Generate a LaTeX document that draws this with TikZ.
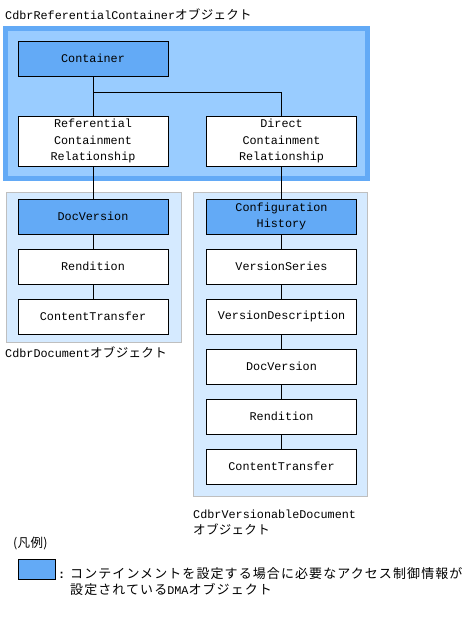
\documentclass[tikz,border=0pt]{standalone}
\usepackage{fontspec}
\setmainfont{Liberation Mono}
\newfontfamily\jp{Noto Sans CJK JP}[LetterSpace=2.5,Scale=1.06]
\newfontfamily\jpwide{Noto Sans CJK JP}[LetterSpace=8.5,Scale=1.1]
\definecolor{dmablue}{HTML}{63AAF6}
\definecolor{rcfill}{HTML}{99CCFF}
\definecolor{docfill}{HTML}{D5EAFF}
\definecolor{docline}{HTML}{BFBFBF}
\begin{document}
\begin{tikzpicture}[x=1pt,y=-1pt,
    font=\fontsize{11.8pt}{16.5pt}\selectfont,
    obj/.style={draw,fill=white,minimum width=150pt,minimum height=35pt,inner sep=0pt,align=center},
    dma/.style={obj,fill=dmablue},
    rel/.style={obj,minimum height=50pt},
    lbl/.style={anchor=base west,inner sep=0pt}]
  \useasboundingbox (0,0) rectangle (471,620);
  \draw[line width=5pt,draw=dmablue,fill=rcfill] (5.5,28.5) rectangle (367.5,178.5);
  \draw[docline,fill=docfill] (6.5,192.5) rectangle (181.5,342.5);
  \draw[docline,fill=docfill] (193.5,192.5) rectangle (367.5,496.5);
  \node[lbl] (rctitle) at (5,20) {CdbrReferentialContainer{\jp オブジェクト}};
  \node[lbl] (doctitle) at (5,357) {CdbrDocument{\jp オブジェクト}};
  \node[lbl] (vdtitle) at (193,518) {CdbrVersionableDocument};
  \node[lbl] (vdtitle2) at (193,534.5) {\jp オブジェクト};
  \node[dma] (cont) at (93,58.5) {Container};
  \node[rel] (refrel) at (93,141) {Referential\\Containment\\Relationship};
  \node[rel] (dirrel) at (281.5,141) {Direct\\Containment\\Relationship};
  \node[dma] (docver) at (93,216.5) {DocVersion};
  \node[obj] (rend) at (93,266.5) {Rendition};
  \node[obj] (ctrans) at (93,316.5) {ContentTransfer};
  \node[dma] (confhist) at (281.5,216.5) {Configuration\\History};
  \node[obj] (vseries) at (281.5,266.5) {VersionSeries};
  \node[obj] (vdesc) at (281.5,316.5) {VersionDescription};
  \node[obj] (vdocver) at (281.5,366.5) {DocVersion};
  \node[obj] (vrend) at (281.5,416.5) {Rendition};
  \node[obj] (vctrans) at (281.5,466.5) {ContentTransfer};
  \coordinate (branch) at (93,92);
  \draw (cont) -- (refrel);
  \draw (branch) -| (dirrel);
  \draw (refrel) -- (docver);
  \draw (dirrel) -- (confhist);
  \foreach \a/\b in {docver/rend,rend/ctrans,confhist/vseries,vseries/vdesc,vdesc/vdocver,vdocver/vrend,vrend/vctrans}
    \draw (\a) -- (\b);
  \node[lbl] (legtitle) at (13,547.5) {\jp (凡例)};
  \node[draw,fill=dmablue,minimum width=37pt,minimum height=20pt,inner sep=0pt] (legbox) at (36.5,569) {};
  \node[lbl] (legcolon) at (58,578.5) {\textbf{:}};
  \node[lbl] (legtext) at (70,578.5) {\jpwide コンテインメントを設定する場合に必要なアクセス制御情報が};
  \node[lbl] (legtext2) at (70,594.5) {\jpwide 設定されている{\fontspec{Liberation Mono}DMA}オブジェクト};
\end{tikzpicture}
\end{document}
